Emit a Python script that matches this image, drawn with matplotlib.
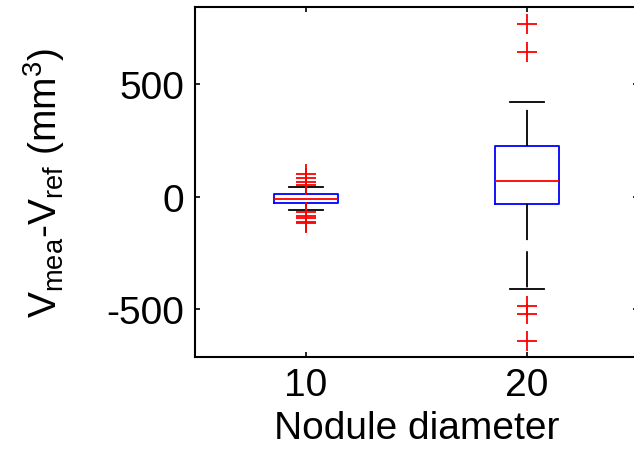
import matplotlib
matplotlib.use("Agg")
import matplotlib.pyplot as plt

plt.rcParams['font.family'] = ['Liberation Sans', 'DejaVu Sans']
plt.rcParams['mathtext.fontset'] = 'custom'
plt.rcParams['mathtext.rm'] = 'Liberation Sans'
plt.rcParams['mathtext.it'] = 'Liberation Sans'
plt.rcParams['mathtext.default'] = 'regular'
plt.rcParams['lines.scale_dashes'] = False

# Data
categories = ['10', '20']
medians = [-8, 68]
q1 = [-27, -34]
q3 = [10, 227]
whislo = [-59, -411]
whishi = [44, 418]
fliers_10 = [100, 84, 66, 54, -68, -84, -96, -110, -118]
fliers_20 = [768, 640, -486, -522, -641]
fliers = [fliers_10, fliers_20]

stats = []
for i, lab in enumerate(categories):
    stats.append(dict(label=lab, med=medians[i], q1=q1[i], q3=q3[i],
                      whislo=whislo[i], whishi=whishi[i], fliers=fliers[i]))

fig = plt.figure(figsize=(6.34, 4.60), dpi=100)
ax = fig.add_axes([195/634, 1-358.3/460, 442.5/634, 350/460])

ax.bxp(stats, positions=[1, 2], widths=0.29, capwidths=0.154,
       boxprops=dict(color='#0000ff', linewidth=1.3),
       medianprops=dict(color='#ff0000', linewidth=1.3),
       whiskerprops=dict(color='black', linewidth=1.3, linestyle=(0, (26, 8))),
       capprops=dict(color='black', linewidth=1.3),
       flierprops=dict(marker='+', markeredgecolor='#ff0000', markersize=14,
                       markeredgewidth=1.3, linestyle='none'))

ax.set_xlim(0.5, 2.5)
ax.set_ylim(-712, 840)
ax.set_yticks([-500, 0, 500])
ax.set_yticklabels(['-500', '0', '500'])
ax.set_xticks([1, 2])
ax.set_xticklabels(categories)

for s in ax.spines.values():
    s.set_linewidth(1.5)
ax.tick_params(direction='in', top=True, right=True, length=3.6, width=1.2,
               labelsize=28)
ax.tick_params(axis='y', pad=8)
ax.tick_params(axis='x', pad=7)

ax.set_xlabel('Nodule diameter', fontsize=28, labelpad=5)
ax.set_ylabel(r'V$_{mea}$-V$_{ref}$ (mm$^{3}$)', fontsize=28)
ax.yaxis.set_label_coords(-0.29, 0.5)

fig.savefig('out.png', dpi=100)
